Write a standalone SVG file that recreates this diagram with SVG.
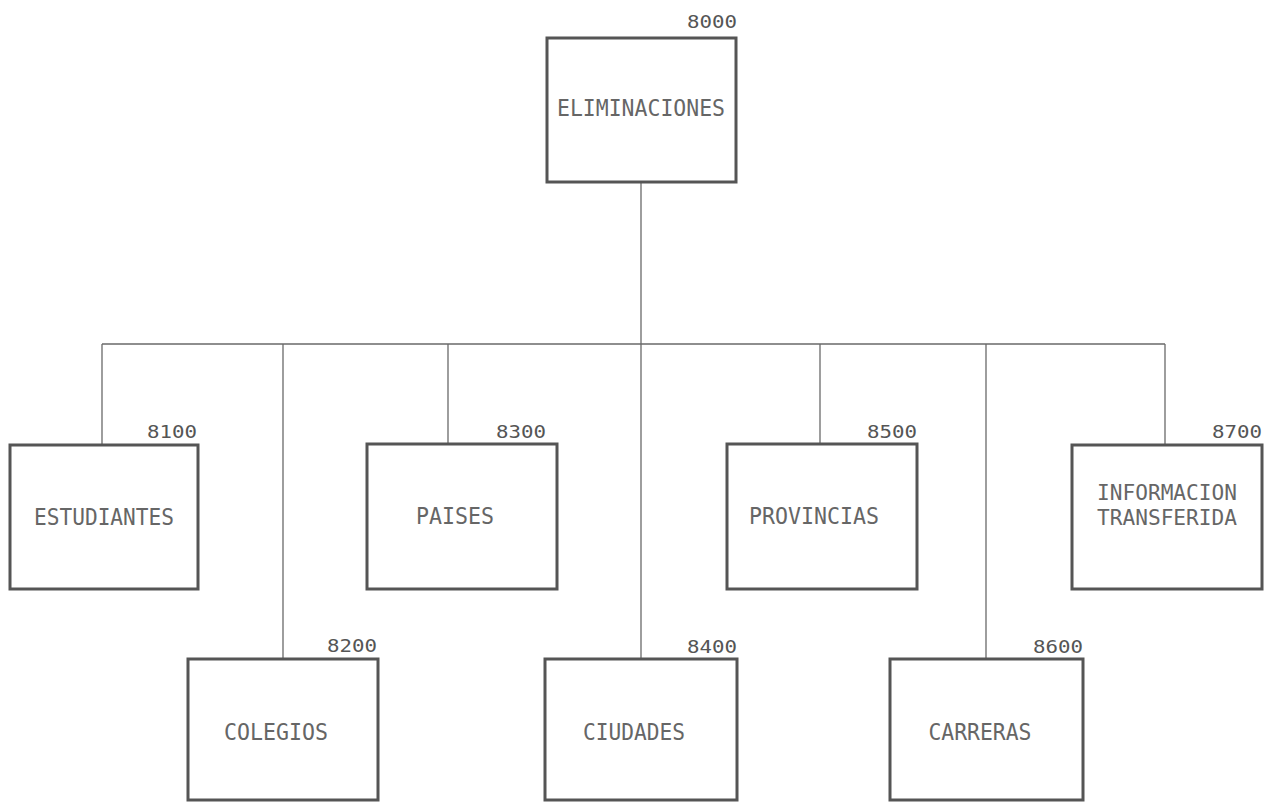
<svg xmlns="http://www.w3.org/2000/svg" width="1275" height="805" viewBox="0 0 1275 805">
<style>
.box{fill:#fff;stroke:#555;stroke-width:3}
.ln{fill:none;stroke:#6a6a6a;stroke-width:1.3}
.lbl{font-family:"DejaVu Sans Mono","Liberation Mono",monospace;font-size:23px;fill:#666;text-anchor:middle}
.sm{font-size:21px}
.num{font-family:"DejaVu Sans Mono","Liberation Mono",monospace;font-size:18px;fill:#555;text-anchor:end}
</style>
<rect width="1275" height="805" fill="#fff"/>
<g id="connectors">
<path class="ln" d="M641 183V658M102 344H1165M102 344V444M283 344V658M448 344V444M820 344V444M986 344V658M1165 344V444"/>
</g>
<g id="n8000">
<rect class="box" x="547" y="38" width="189" height="144"/>
<text class="num" x="737" y="28" textLength="50" lengthAdjust="spacingAndGlyphs">8000</text>
<text class="lbl" x="641" y="116" textLength="168" lengthAdjust="spacingAndGlyphs">ELIMINACIONES</text>
</g>
<g id="n8100">
<rect class="box" x="10" y="445" width="188" height="144"/>
<text class="num" x="197" y="438" textLength="50" lengthAdjust="spacingAndGlyphs">8100</text>
<text class="lbl" x="104" y="525" textLength="140" lengthAdjust="spacingAndGlyphs">ESTUDIANTES</text>
</g>
<g id="n8200">
<rect class="box" x="188" y="659" width="190" height="141"/>
<text class="num" x="377" y="652" textLength="50" lengthAdjust="spacingAndGlyphs">8200</text>
<text class="lbl" x="276" y="740" textLength="104" lengthAdjust="spacingAndGlyphs">COLEGIOS</text>
</g>
<g id="n8300">
<rect class="box" x="367" y="444" width="190" height="145"/>
<text class="num" x="546" y="438" textLength="50" lengthAdjust="spacingAndGlyphs">8300</text>
<text class="lbl" x="455" y="524" textLength="78" lengthAdjust="spacingAndGlyphs">PAISES</text>
</g>
<g id="n8400">
<rect class="box" x="545" y="659" width="192" height="141"/>
<text class="num" x="737" y="653" textLength="50" lengthAdjust="spacingAndGlyphs">8400</text>
<text class="lbl" x="634" y="740" textLength="102" lengthAdjust="spacingAndGlyphs">CIUDADES</text>
</g>
<g id="n8500">
<rect class="box" x="727" y="444" width="190" height="145"/>
<text class="num" x="917" y="438" textLength="50" lengthAdjust="spacingAndGlyphs">8500</text>
<text class="lbl" x="814" y="524" textLength="130" lengthAdjust="spacingAndGlyphs">PROVINCIAS</text>
</g>
<g id="n8600">
<rect class="box" x="890" y="659" width="193" height="141"/>
<text class="num" x="1083" y="653" textLength="50" lengthAdjust="spacingAndGlyphs">8600</text>
<text class="lbl" x="980" y="740" textLength="103" lengthAdjust="spacingAndGlyphs">CARRERAS</text>
</g>
<g id="n8700">
<rect class="box" x="1072" y="445" width="190" height="144"/>
<text class="num" x="1262" y="438" textLength="50" lengthAdjust="spacingAndGlyphs">8700</text>
<text class="lbl sm" x="1167" y="500" textLength="140" lengthAdjust="spacingAndGlyphs">INFORMACION</text>
<text class="lbl sm" x="1167" y="525" textLength="140" lengthAdjust="spacingAndGlyphs">TRANSFERIDA</text>
</g>
</svg>
